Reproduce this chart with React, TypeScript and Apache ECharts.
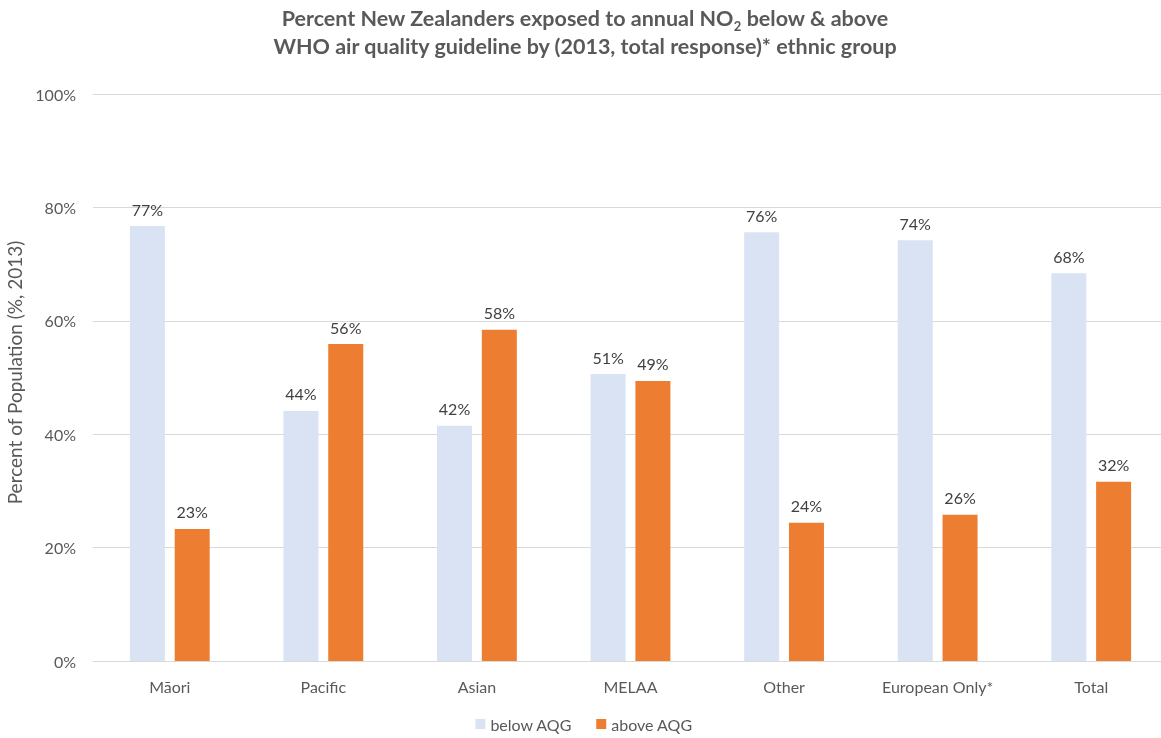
import React, { useEffect, useRef } from "react";
import * as echarts from "echarts";

const categories = ["Māori", "Pacific", "Asian", "MELAA", "Other", "European Only*", "Total"];
const belowAQG = [76.7, 44.1, 41.5, 50.6, 75.6, 74.2, 68.4];
const aboveAQG = [23.3, 55.9, 58.4, 49.4, 24.4, 25.8, 31.6];
const yTicks = [0, 20, 40, 60, 80, 100];

const FONT = "Lato, 'Open Sans', sans-serif";

export default function App() {
  const ref = useRef<HTMLDivElement>(null);
  useEffect(() => {
    const chart = echarts.init(ref.current!, null, { renderer: "svg" });
    const label = {
      show: true,
      position: "top",
      distance: 9,
      formatter: (p: any) => Math.round(p.value) + "%",
      fontSize: 16,
      color: "#404040",
      fontFamily: FONT,
    };
    chart.setOption({
      animation: false,
      textStyle: { fontFamily: FONT },
      title: {
        text: "{t|Percent New Zealanders exposed to annual NO}{s|2}{t| below & above}\n{t|WHO air quality guideline by (2013, total response)* ethnic group}",
        left: 580,
        textAlign: "center",
        top: -1,
        textStyle: {
          rich: {
            t: { fontSize: 21.5, fontWeight: "bold", color: "#595959", fontFamily: FONT, lineHeight: 28 },
            s: { fontSize: 13, fontWeight: "bold", color: "#595959", fontFamily: FONT, verticalAlign: "bottom", padding: [9, 0, 0, 0], lineHeight: 28 },
          },
        },
      },
      legend: {
        bottom: 1,
        left: "center",
        itemWidth: 10,
        itemHeight: 10,
        itemGap: 24,
        icon: "rect",
        textStyle: { fontSize: 16, color: "#595959", fontFamily: FONT },
        data: ["below AQG", "above AQG"],
      },
      grid: { left: 93, right: 0, top: 94, bottom: 77, containLabel: false, outerBoundsMode: "none" },
      xAxis: {
        type: "category",
        data: categories,
        axisTick: { show: false },
        axisLine: { lineStyle: { color: "#d9d9d9" } },
        axisLabel: { fontSize: 16, color: "#595959", margin: 17, fontFamily: FONT },
      },
      yAxis: {
        type: "value",
        min: yTicks[0],
        max: yTicks[yTicks.length - 1],
        interval: 20,
        name: "Percent of Population (%, 2013)",
        nameLocation: "middle",
        nameGap: 61,
        nameTextStyle: { fontSize: 19, color: "#595959", fontFamily: FONT, padding: [0, 0, 0, 10] },
        axisLabel: { formatter: "{value}%", fontSize: 16, color: "#595959", margin: 17, fontFamily: FONT },
        splitLine: { lineStyle: { color: "#d9d9d9" } },
        axisLine: { show: false },
        axisTick: { show: false },
      },
      series: [
        {
          name: "below AQG",
          type: "bar",
          data: belowAQG,
          barWidth: 35,
          barGap: "28%",
          itemStyle: { color: "#dae3f3" },
          label,
        },
        {
          name: "above AQG",
          type: "bar",
          data: aboveAQG,
          barWidth: 35,
          barGap: "28%",
          itemStyle: { color: "#ed7d31" },
          label,
        },
      ],
    });
    return () => chart.dispose();
  }, []);
  return (
    <div style={{ position: "fixed", left: 0, top: 0, width: 1161, height: 738, overflow: "hidden" }}>
      <div ref={ref} style={{ width: 1168, height: 738 }} />
    </div>
  );
}
